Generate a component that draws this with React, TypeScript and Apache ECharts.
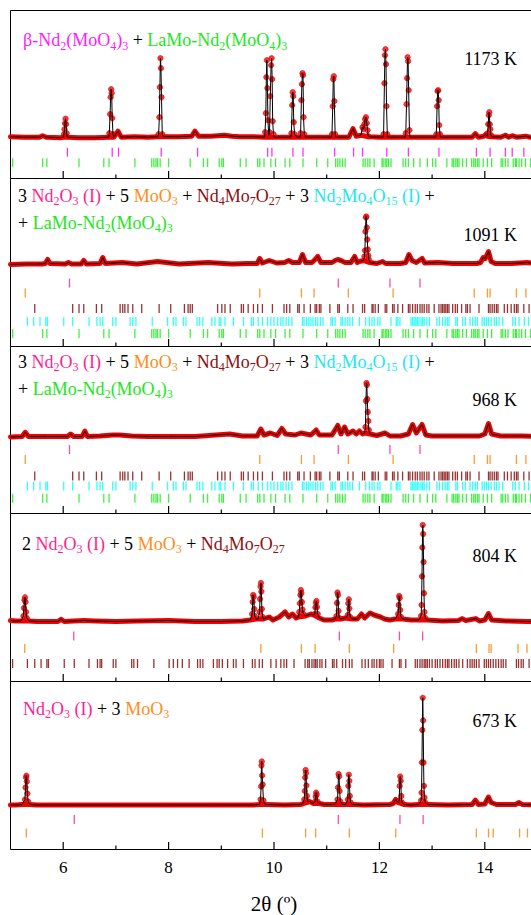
import React, { useEffect, useRef } from 'react';
import * as echarts from 'echarts';

const FONT = 'Liberation Serif';

// ---------- axis ----------
const xMin = 5;
const xMax = 15;
const xMajorTicks = [6, 8, 10, 12, 14];
const xMinorTicks = [7, 9, 11, 13];
const xTitle = '2θ (º)';

// ---------- reflection positions (2θ, deg) ----------
const betaNdMoO_P1 = [6.08, 6.93, 7.05, 7.86, 8.55, 9.88, 9.96, 10.36, 10.55, 11.15, 11.51, 11.68, 12.14, 12.55, 13.13, 13.84, 14.10, 14.39, 14.52, 14.74];
const laMoNdMoO = [5.04, 5.61, 5.69, 6.30, 6.77, 6.87, 7.36, 7.68, 7.72, 7.76, 7.79, 7.84, 8.00, 8.41, 8.66, 8.74, 8.96, 9.01, 9.04, 9.36, 9.47, 9.69, 9.73, 9.81, 9.94, 10.03, 10.21, 10.30, 10.55, 10.81, 11.02, 11.17, 11.21, 11.25, 11.30, 11.35, 11.69, 11.73, 11.78, 11.82, 11.90, 12.05, 12.07, 12.11, 12.14, 12.17, 12.22, 12.45, 12.50, 12.55, 12.65, 12.77, 12.91, 13.01, 13.07, 13.28, 13.38, 13.41, 13.45, 13.48, 13.51, 13.58, 13.65, 13.75, 13.79, 13.82, 13.86, 13.89, 13.97, 14.05, 14.13, 14.31, 14.34, 14.39, 14.44, 14.54, 14.58, 14.60, 14.65, 14.70, 14.77, 14.87];
const nd2o3_P23 = [6.12, 11.22, 12.20, 12.77];
const nd2o3_P4 = [6.20, 11.24, 12.38, 12.82];
const nd2o3_P5 = [6.21, 11.22, 12.39, 12.83];
const moo3_P23 = [5.28, 9.73, 10.52, 10.76, 11.41, 12.26, 13.80, 14.05, 14.10, 14.60, 14.78];
const moo3_P4 = [5.27, 9.75, 10.52, 10.78, 11.43, 12.27, 13.84, 14.08, 14.12, 14.63, 14.80];
const moo3_P5 = [5.30, 9.78, 10.60, 10.79, 11.43, 12.31, 13.84, 14.07, 14.16, 14.66, 14.81];
const nd4mo7_P23 = [5.46, 6.18, 6.30, 6.39, 6.63, 6.73, 7.08, 7.13, 7.17, 7.23, 7.32, 7.49, 7.82, 8.04, 8.30, 8.37, 8.41, 8.45, 8.93, 9.01, 9.07, 9.17, 9.38, 9.42, 9.51, 9.61, 9.69, 9.78, 9.97, 10.19, 10.24, 10.30, 10.45, 10.48, 10.57, 10.69, 10.78, 10.81, 10.86, 10.89, 11.06, 11.21, 11.24, 11.40, 11.50, 11.68, 11.72, 11.86, 11.88, 11.92, 11.98, 12.11, 12.14, 12.25, 12.28, 12.35, 12.44, 12.55, 12.58, 12.63, 12.68, 12.72, 12.77, 12.81, 12.85, 12.90, 12.94, 13.04, 13.13, 13.17, 13.20, 13.23, 13.26, 13.29, 13.32, 13.39, 13.44, 13.48, 13.56, 13.64, 13.67, 13.72, 13.89, 14.07, 14.10, 14.14, 14.18, 14.22, 14.25, 14.37, 14.43, 14.50, 14.56, 14.60, 14.63, 14.74, 14.84];
const nd4mo7_P4 = [5.04, 5.32, 5.46, 5.58, 5.69, 5.72, 6.02, 6.21, 6.49, 6.65, 6.70, 6.73, 6.95, 7.00, 7.30, 7.34, 7.41, 7.72, 8.01, 8.09, 8.17, 8.26, 8.39, 8.55, 8.60, 8.65, 8.85, 8.92, 8.96, 9.02, 9.12, 9.23, 9.28, 9.42, 9.59, 9.64, 9.72, 9.78, 9.94, 10.04, 10.13, 10.19, 10.24, 10.38, 10.59, 10.64, 10.67, 10.72, 10.76, 10.79, 10.82, 10.87, 10.91, 10.98, 11.11, 11.14, 11.19, 11.30, 11.36, 11.43, 11.48, 11.67, 11.73, 11.79, 11.86, 11.90, 11.95, 12.00, 12.03, 12.07, 12.24, 12.38, 12.41, 12.50, 12.68, 12.72, 12.77, 12.81, 12.85, 12.88, 12.91, 12.95, 13.00, 13.06, 13.10, 13.15, 13.20, 13.25, 13.29, 13.32, 13.37, 13.42, 13.46, 13.51, 13.58, 13.67, 13.72, 13.76, 13.80, 13.84, 13.89, 13.99, 14.03, 14.07, 14.11, 14.16, 14.21, 14.26, 14.31, 14.35, 14.40, 14.60, 14.64, 14.69, 14.73, 14.84];
const nd2mo4o15 = [5.32, 5.44, 5.56, 5.67, 5.70, 6.01, 6.18, 6.49, 6.64, 6.70, 6.75, 6.94, 7.00, 7.27, 7.32, 7.38, 7.69, 7.98, 8.09, 8.14, 8.28, 8.33, 8.54, 8.59, 8.65, 8.82, 8.88, 8.96, 8.99, 9.07, 9.23, 9.42, 9.57, 9.61, 9.70, 9.78, 9.88, 9.94, 10.00, 10.07, 10.13, 10.17, 10.23, 10.28, 10.34, 10.54, 10.57, 10.62, 10.66, 10.70, 10.74, 10.79, 10.83, 10.88, 10.93, 11.08, 11.11, 11.16, 11.27, 11.30, 11.35, 11.40, 11.44, 11.49, 11.62, 11.74, 11.81, 11.86, 11.90, 11.97, 12.01, 12.22, 12.32, 12.35, 12.39, 12.60, 12.63, 12.66, 12.69, 12.72, 12.75, 12.79, 12.82, 12.85, 12.90, 12.95, 13.09, 13.14, 13.20, 13.25, 13.29, 13.32, 13.45, 13.48, 13.58, 13.63, 13.72, 13.77, 13.82, 13.86, 13.95, 13.99, 14.03, 14.07, 14.12, 14.18, 14.22, 14.27, 14.34, 14.53, 14.58, 14.65, 14.75, 14.83];

// ---------- observed / calculated profiles: [2θ, intensity above background] ----------
const p1Base = [[5.00,1.5],[5.25,1],[5.55,1],[5.61,2.5],[5.68,1],[5.95,0.5],[6.00,1],[6.08,1],[6.30,0.5],[6.60,0.5],[6.86,1],[6.96,1],[7.04,7],[7.10,1],[7.36,1.5],[7.60,1],[7.80,1.5],[7.90,1.5],[8.20,1.5],[8.44,2],[8.50,7],[8.57,2],[8.80,2],[9.06,3],[9.20,2],[9.35,1.5],[9.60,1.5],[9.82,1],[10.00,1],[10.20,1],[10.32,1],[10.44,1],[10.50,1],[10.60,1],[10.90,1],[11.09,1],[11.17,1],[11.42,1],[11.50,9.5],[11.56,2],[11.65,3],[11.80,1.5],[12.00,1],[12.07,1],[12.16,1],[12.40,1],[12.49,1],[12.58,1],[12.90,1],[13.07,1],[13.16,1],[13.50,1],[13.76,1],[13.82,4.5],[13.88,1],[13.98,2],[14.02,4],[14.05,2],[14.13,1.5],[14.30,1],[14.39,3],[14.45,1],[14.52,2.5],[14.60,1],[14.78,2],[14.85,1],[15.00,1]];
const p1Peaks = [[6.015,4],[6.025,9],[6.035,15],[6.045,19.5],[6.055,14],[6.065,5],[6.875,5],[6.89,24],[6.90,41],[6.91,49],[6.92,45],[6.93,20],[6.945,4],[7.81,4],[7.825,21],[7.835,51],[7.845,80],[7.855,70],[7.865,41],[7.88,4],[9.83,6],[9.845,25],[9.855,61],[9.865,78],[9.875,50],[9.885,18],[9.90,3],[9.915,6],[9.93,42],[9.945,73],[9.955,80],[9.965,59],[9.975,17],[9.99,4],[10.33,5],[10.345,33],[10.355,46],[10.365,42],[10.375,16],[10.39,4],[10.505,5],[10.52,38],[10.53,54],[10.54,65],[10.55,63],[10.56,21],[10.575,4],[11.10,4],[11.115,32],[11.125,59],[11.135,62],[11.145,37],[11.16,4],[11.68,11],[11.70,9],[11.715,14],[11.73,19],[11.745,21],[11.76,15],[11.775,8],[11.79,2],[12.08,4],[12.095,55],[12.105,83],[12.115,89],[12.125,74],[12.135,32],[12.15,4],[12.50,5],[12.515,34],[12.525,60],[12.535,81],[12.545,77],[12.555,48],[12.57,8],[13.08,4],[13.095,32],[13.105,47],[13.115,48],[13.125,38],[13.135,13],[13.15,4],[14.055,5],[14.065,14],[14.075,23],[14.085,26],[14.095,14],[14.105,9],[14.12,3]];

const p2Base = [[5.00,0],[5.30,0.5],[5.60,0.5],[5.66,1],[5.705,5],[5.75,1],[6.04,0.5],[6.10,2],[6.16,0.5],[6.34,0.5],[6.39,4],[6.44,0.5],[6.70,1],[6.75,7],[6.80,1],[7.12,2],[7.40,0.5],[7.79,3],[8.20,0.5],[8.75,2],[9.20,0.5],[9.50,1],[9.68,1],[9.73,6],[9.78,1.5],[9.91,4],[10.05,1.5],[10.20,2],[10.28,4],[10.35,2],[10.48,2],[10.54,10],[10.60,2],[10.72,2],[10.78,5],[10.83,8],[10.89,2],[11.10,2],[11.16,4],[11.21,5],[11.27,4],[11.35,2],[11.46,2],[11.53,8],[11.58,2],[11.62,3],[11.70,4],[11.82,2],[11.95,1],[12.06,3],[12.12,1],[12.40,1],[12.50,2],[12.56,10],[12.62,4],[12.70,2],[12.81,6],[12.86,1.5],[13.11,2],[13.40,1],[13.85,1],[13.92,2],[13.97,7],[14.01,6],[14.07,13],[14.12,3],[14.20,1],[14.50,1],[14.81,2],[15.00,0.5]];
const p2Peaks = [[11.715,8],[11.725,14],[11.735,33],[11.745,47],[11.752,48],[11.76,37],[11.77,25],[11.78,15],[11.79,9],[11.80,5]];

const p3Base = [[5.00,0],[5.22,0.5],[5.28,4.7],[5.34,0.5],[5.70,0.5],[6.08,0.5],[6.14,3],[6.20,0.5],[6.36,0.5],[6.41,6],[6.46,0.5],[6.70,1],[6.94,2],[7.07,2],[7.30,1],[7.60,0.5],[8.00,0.5],[8.50,0.5],[9.16,3],[9.40,1],[9.68,1],[9.75,8],[9.81,2],[9.93,4],[10.06,1.5],[10.15,8.5],[10.22,3],[10.40,2],[10.51,4],[10.70,2],[10.80,7],[10.86,2],[11.10,2],[11.21,11.5],[11.27,3],[11.34,10],[11.40,3],[11.50,6],[11.56,3],[11.62,6],[11.68,3],[11.72,4],[11.82,3],[11.95,1.5],[12.11,4],[12.20,1],[12.40,1],[12.55,3],[12.63,12.5],[12.70,4],[12.81,12.5],[12.88,2],[13.00,1],[13.40,1],[13.90,1],[14.00,3],[14.07,13.5],[14.13,3],[14.30,1],[14.70,1],[15.00,0.5]];
const p3Peaks = [[11.735,10],[11.745,36],[11.755,54],[11.762,52],[11.77,38],[11.78,25],[11.79,16],[11.80,7]];

const p4Base = [[5.00,1.5],[5.10,1],[5.20,1],[5.35,1],[5.50,0.5],[5.90,0.5],[5.96,2.7],[6.02,0.5],[6.39,1.5],[6.60,1],[7.00,0.5],[7.42,1],[8.00,1.5],[8.50,0.5],[9.00,0.5],[9.40,1],[9.55,2],[9.66,3],[9.70,3],[9.80,3],[9.91,5],[9.98,2],[10.10,5],[10.21,10],[10.28,5],[10.35,8],[10.42,4],[10.46,5],[10.60,6],[10.70,8],[10.76,7],[10.86,4],[10.95,2],[11.10,2],[11.16,3],[11.27,3],[11.35,4],[11.48,3],[11.58,3],[11.66,8],[11.72,4],[11.82,9],[11.90,7],[12.02,5],[12.10,3],[12.20,2],[12.30,3],[12.44,3],[12.60,2],[12.75,2],[12.90,2],[13.20,1],[13.50,1.5],[13.57,3.4],[13.64,1.5],[13.83,3.4],[13.90,1],[14.00,2],[14.07,8.5],[14.13,2],[14.40,1],[14.80,0.5],[15.00,0.5]];
const p4Peaks = [[5.245,6],[5.255,14],[5.265,22],[5.275,24.7],[5.285,20],[5.295,10],[5.31,4],[9.585,8],[9.595,20],[9.605,27],[9.615,25],[9.625,13],[9.635,6],[9.725,10],[9.735,23],[9.745,35.5],[9.752,39],[9.76,30.5],[9.77,13],[9.785,5],[10.48,10],[10.49,18.6],[10.50,27],[10.51,32],[10.52,29],[10.53,20],[10.54,12.5],[10.56,8],[10.775,8],[10.785,14.6],[10.795,19],[10.805,21],[10.815,15],[10.83,8],[11.185,6],[11.195,19],[11.205,29.5],[11.215,27],[11.225,11],[11.24,4],[11.40,7],[11.41,18.6],[11.42,22.7],[11.43,13.5],[11.445,5],[12.355,8],[12.365,17],[12.375,26],[12.385,24],[12.395,12],[12.41,5],[12.79,6],[12.80,17],[12.808,45.7],[12.815,74.5],[12.822,97],[12.83,88],[12.838,60],[12.846,28.8],[12.855,10],[12.87,4]];

const p5Base = [[5.00,0.5],[5.10,0.5],[5.22,1],[5.36,1],[5.50,0.5],[6.00,0.5],[7.00,0.5],[8.00,0.5],[9.00,0.5],[9.60,0.5],[9.72,1],[9.83,1],[10.20,0.5],[10.50,1],[10.54,1.5],[10.68,4],[10.74,2],[10.86,2],[10.95,1],[11.15,1],[11.30,1],[11.36,1],[11.49,1],[11.70,0.5],[12.20,1],[12.26,2],[12.31,6],[12.35,3],[12.46,1],[12.60,0.5],[12.75,1],[12.92,1],[13.30,0.5],[13.76,1],[13.82,5.4],[13.88,1],[14.00,1.5],[14.07,8.5],[14.12,3],[14.17,2],[14.22,1],[14.58,1],[14.65,3],[14.71,1],[15.00,0.5]];
const p5Peaks = [[5.275,6],[5.285,18],[5.295,28],[5.302,29.8],[5.31,24],[5.32,12],[5.335,4],[9.745,6],[9.755,19],[9.762,40],[9.768,44],[9.775,30],[9.785,21],[9.80,5],[10.575,6],[10.585,14.6],[10.592,28],[10.60,35.5],[10.607,32.5],[10.615,20],[10.625,9.5],[10.64,4],[10.78,4],[10.79,9],[10.80,12.9],[10.81,11],[10.825,4],[11.205,6],[11.215,18],[11.225,31.5],[11.235,29],[11.245,14.6],[11.26,4],[11.40,6],[11.41,19.6],[11.42,30.8],[11.43,24.7],[11.44,9.5],[11.455,3],[12.375,5],[12.385,19.6],[12.395,29],[12.405,24.7],[12.415,9.5],[12.43,3],[12.79,5],[12.80,12.9],[12.807,43],[12.815,75.5],[12.822,107.7],[12.83,85],[12.838,43],[12.845,19.6],[12.855,8],[12.87,3]];

// ---------- colours ----------
const C = {
  black: '#000000',
  magenta: '#ff1aff',
  green: '#22e622',
  pink: '#ff1f8e',
  orange: '#ff8c1a',
  darkred: '#8b1010',
  cyan: '#19e8f0',
};
const TICK = {
  magenta: '#ff00ff',
  green: '#11ee11',
  pink: '#ff1f8e',
  orange: '#ff8000',
  darkred: '#800000',
  cyan: '#00ffff',
};

// ---------- panel layout ----------
const panels = [
  {
    top: 10.5, height: 168, yMin: -40.3, yMax: 127.7, base: p1Base, peaks: p1Peaks,
    rows: [
      { ticks: betaNdMoO_P1, color: TICK.magenta, level: -14 },
      { ticks: laMoNdMoO, color: TICK.green, level: -24.5 },
    ],
    temp: '1173 K', tempY: 61,
    lines: [{ x: 23, y: 42.5, text: '{m|β-Nd}{ms|2}{m|(MoO}{ms|4}{m|)}{ms|3}{k| + }{g|LaMo-Nd}{gs|2}{g|(MoO}{gs|4}{g|)}{gs|3}' }],
  },
  {
    top: 178.5, height: 168, yMin: -82, yMax: 86, base: p2Base, peaks: p2Peaks,
    rows: [
      { ticks: nd2o3_P23, color: TICK.pink, level: -18.5 },
      { ticks: moo3_P23, color: TICK.orange, level: -28.5 },
      { ticks: nd4mo7_P23, color: TICK.darkred, level: -44 },
      { ticks: nd2mo4o15, color: TICK.cyan, level: -57 },
      { ticks: laMoNdMoO, color: TICK.green, level: -69 },
    ],
    temp: '1091 K', tempY: 237,
    lines: [
      { x: 18, y: 198, text: '{k|3 }{p|Nd}{ps|2}{p|O}{ps|3}{p| (I)}{k| + 5 }{o|MoO}{os|3}{k| + }{d|Nd}{ds|4}{d|Mo}{ds|7}{d|O}{ds|27}{k| + 3 }{c|Nd}{cs|2}{c|Mo}{cs|4}{c|O}{cs|15}{c| (I)}{k| +}' },
      { x: 18, y: 225, text: '{k|+ }{g|LaMo-Nd}{gs|2}{g|(MoO}{gs|4}{g|)}{gs|3}' },
    ],
  },
  {
    top: 346.5, height: 167, yMin: -76.5, yMax: 90.5, base: p3Base, peaks: p3Peaks,
    rows: [
      { ticks: nd2o3_P23, color: TICK.pink, level: -12.5 },
      { ticks: moo3_P23, color: TICK.orange, level: -22.5 },
      { ticks: nd4mo7_P23, color: TICK.darkred, level: -39 },
      { ticks: nd2mo4o15, color: TICK.cyan, level: -49 },
      { ticks: laMoNdMoO, color: TICK.green, level: -61.3 },
    ],
    temp: '968 K', tempY: 402,
    lines: [
      { x: 18, y: 364, text: '{k|3 }{p|Nd}{ps|2}{p|O}{ps|3}{p| (I)}{k| + 5 }{o|MoO}{os|3}{k| + }{d|Nd}{ds|4}{d|Mo}{ds|7}{d|O}{ds|27}{k| + 3 }{c|Nd}{cs|2}{c|Mo}{cs|4}{c|O}{cs|15}{c| (I)}{k| +}' },
      { x: 18, y: 391, text: '{k|+ }{g|LaMo-Nd}{gs|2}{g|(MoO}{gs|4}{g|)}{gs|3}' },
    ],
  },
  {
    top: 513.5, height: 168, yMin: -59.5, yMax: 108.5, base: p4Base, peaks: p4Peaks,
    rows: [
      { ticks: nd2o3_P4, color: TICK.pink, level: -14 },
      { ticks: moo3_P4, color: TICK.orange, level: -26.5 },
      { ticks: nd4mo7_P4, color: TICK.darkred, level: -41.5 },
    ],
    temp: '804 K', tempY: 558,
    lines: [{ x: 22, y: 546, text: '{k|2 }{p|Nd}{ps|2}{p|O}{ps|3}{p| (I)}{k| + 5 }{o|MoO}{os|3}{k| + }{d|Nd}{ds|4}{d|Mo}{ds|7}{d|O}{ds|27}' }],
  },
  {
    top: 681.5, height: 168, yMin: -44, yMax: 124, base: p5Base, peaks: p5Peaks,
    rows: [
      { ticks: nd2o3_P5, color: TICK.pink, level: -14 },
      { ticks: moo3_P5, color: TICK.orange, level: -27.5 },
    ],
    temp: '673 K', tempY: 723,
    lines: [{ x: 23, y: 711, text: '{p|Nd}{ps|2}{p|O}{ps|3}{p| (I)}{k| + 3 }{o|MoO}{os|3}' }],
  },
];

const MAIN = 18;
const SUB = 12;
const LH = 23;
function rich() {
  const mk = (fill: string) => ({ fill, fontSize: MAIN, fontFamily: FONT, lineHeight: LH, verticalAlign: 'middle' });
  const sb = (fill: string) => ({ fill, fontSize: SUB, fontFamily: FONT, lineHeight: SUB, verticalAlign: 'bottom' });
  return {
    k: mk(C.black),
    m: mk(C.magenta), ms: sb(C.magenta),
    g: mk(C.green), gs: sb(C.green),
    p: mk(C.pink), ps: sb(C.pink),
    o: mk(C.orange), os: sb(C.orange),
    d: mk(C.darkred), ds: sb(C.darkred),
    c: mk(C.cyan), cs: sb(C.cyan),
  };
}

const GRID_LEFT = 10.5;
const PX_PER_DEG = 52.7;
const MAJOR_LEN = 7.5;
const MINOR_LEN = 4;

export default function App() {
  const ref = useRef<HTMLDivElement>(null);
  useEffect(() => {
    if (!ref.current) return;
    const chart = echarts.init(ref.current, undefined, { renderer: 'svg' });
    const grid: any[] = [];
    const xAxis: any[] = [];
    const yAxis: any[] = [];
    const series: any[] = [];
    const graphic: any[] = [];
    const span = xMax - xMin;
    panels.forEach((p, i) => {
      const last = i === panels.length - 1;
      grid.push({
        left: GRID_LEFT, width: PX_PER_DEG * span, top: p.top, height: p.height,
        show: true, borderColor: '#000', borderWidth: 1, backgroundColor: 'transparent',
        containLabel: false, outerBoundsMode: 'none',
      });
      // wider grid only used to place the tick labels and axis title on even integers
      grid.push({
        left: GRID_LEFT - PX_PER_DEG, width: PX_PER_DEG * (span + 2), top: p.top, height: p.height,
        show: false, containLabel: false, outerBoundsMode: 'none',
      });
      xAxis.push({ type: 'value', gridIndex: 2 * i, min: xMin, max: xMax, show: false });
      xAxis.push({
        type: 'value', gridIndex: 2 * i + 1, min: xMin - 1, max: xMax + 1, interval: 2,
        position: 'bottom',
        axisLine: { show: false },
        axisTick: { show: false },
        splitLine: { show: false },
        axisLabel: {
          show: last, margin: 9, color: '#000', fontFamily: FONT, fontSize: 17,
          formatter: (v: number) => (xMajorTicks.includes(v) ? String(v) : ''),
        },
        name: last ? xTitle : '', nameLocation: 'middle', nameGap: 44,
        nameTextStyle: { color: '#000', fontFamily: FONT, fontSize: 21 },
      });
      yAxis.push({ type: 'value', gridIndex: 2 * i, min: p.yMin, max: p.yMax, show: false });
      yAxis.push({ type: 'value', gridIndex: 2 * i + 1, min: 0, max: 1, show: false });

      const calc = [...p.base, ...p.peaks].sort((a, b) => a[0] - b[0]);
      series.push({
        type: 'line', xAxisIndex: 2 * i, yAxisIndex: 2 * i, data: p.base, symbol: 'none',
        lineStyle: { color: '#f00000', width: 5, join: 'round', cap: 'round' }, z: 2, silent: true,
      });
      series.push({
        type: 'scatter', xAxisIndex: 2 * i, yAxisIndex: 2 * i, data: p.peaks, symbol: 'circle', symbolSize: 5.5,
        itemStyle: { color: '#ff0000', borderColor: '#c00000', borderWidth: 0.6 }, z: 3, silent: true,
      });
      series.push({
        type: 'line', xAxisIndex: 2 * i, yAxisIndex: 2 * i, data: calc, symbol: 'none',
        lineStyle: { color: '#000', width: 1 }, z: 4, silent: true,
      });
      p.rows.forEach((r) => {
        series.push({
          type: 'scatter', xAxisIndex: 2 * i, yAxisIndex: 2 * i,
          data: r.ticks.map((t) => [t, r.level]),
          symbol: 'rect', symbolSize: [1.3, 9], itemStyle: { color: r.color }, z: 2, silent: true,
        });
      });
      p.lines.forEach((l) => {
        graphic.push({
          type: 'text', left: l.x, top: l.y - LH / 2, z: 10,
          style: { text: l.text, rich: rich(), font: `${MAIN}px ${FONT}`, fill: '#000' },
        });
      });
      graphic.push({
        type: 'text', right: 14, top: p.tempY - 11, z: 10,
        style: { text: p.temp, font: `${MAIN}px ${FONT}`, fill: '#000' },
      });
    });
    chart.setOption({ animation: false, grid, xAxis, yAxis, series, graphic });

    // inward bottom-edge ticks: positions come from the library's own scales
    const tickEls: any[] = [];
    panels.forEach((p, i) => {
      const add = (vals: number[], len: number) => {
        vals.forEach((v) => {
          const pt = chart.convertToPixel({ xAxisIndex: 2 * i, yAxisIndex: 2 * i } as any, [v, p.yMin]) as number[];
          if (!pt) return;
          tickEls.push({
            type: 'line', z: 50, silent: true,
            shape: { x1: pt[0], y1: pt[1], x2: pt[0], y2: pt[1] - len },
            style: { stroke: '#000', lineWidth: 1.2 },
          });
        });
      };
      add(xMajorTicks, MAJOR_LEN);
      add(xMinorTicks, MINOR_LEN);
    });
    chart.setOption({ graphic: [...graphic, ...tickEls] }, { replaceMerge: ['graphic'] } as any);
    return () => chart.dispose();
  }, []);
  return (
    <div style={{ position: 'fixed', left: 0, top: 0, width: 531, height: 915, overflow: 'hidden', background: '#fff' }}>
      <div ref={ref} style={{ width: 531, height: 915 }} />
    </div>
  );
}
